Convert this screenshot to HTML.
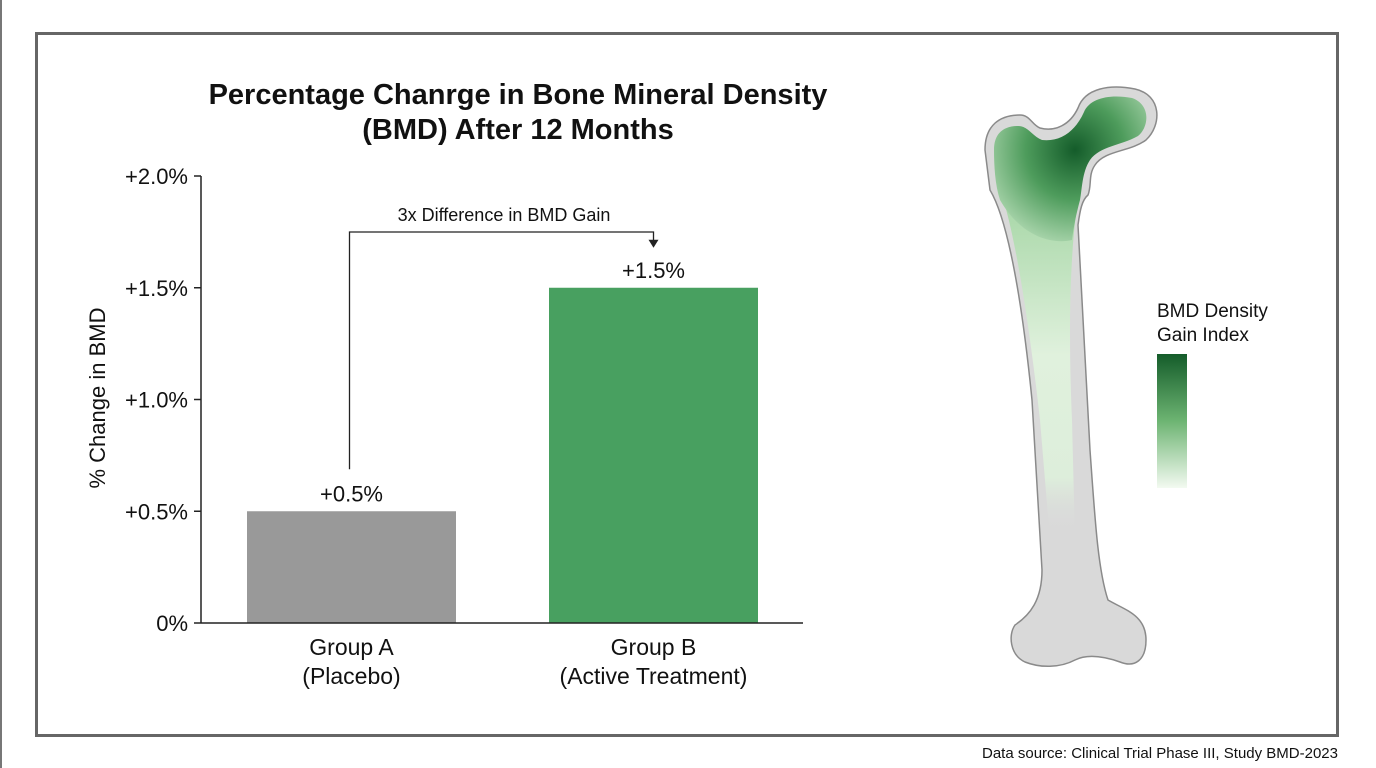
<!DOCTYPE html>
<html><head><meta charset="utf-8"><style>
html,body{margin:0;padding:0;background:#fff;}
body{width:1376px;height:768px;position:relative;overflow:hidden;font-family:"Liberation Sans",sans-serif;}
</style></head><body>
<div style="position:absolute;left:0;top:0;width:2px;height:768px;background:#777"></div>
<svg width="1376" height="768" style="position:absolute;left:0;top:0">
<defs>
<radialGradient id="headG" cx="1075" cy="150" r="110" gradientUnits="userSpaceOnUse">
<stop offset="0" stop-color="#145c2a"/><stop offset="0.45" stop-color="#4e9c5c"/><stop offset="1" stop-color="#c5e6c4"/>
</radialGradient>
<linearGradient id="shaftG" x1="0" y1="180" x2="0" y2="530" gradientUnits="userSpaceOnUse">
<stop offset="0" stop-color="#9fd39f"/><stop offset="0.5" stop-color="#e0f1dd"/><stop offset="0.85" stop-color="#ddeedb"/><stop offset="1" stop-color="#dcdcdc" stop-opacity="0"/>
</linearGradient>
<linearGradient id="legG" x1="0" y1="354" x2="0" y2="488" gradientUnits="userSpaceOnUse">
<stop offset="0" stop-color="#145c2a"/><stop offset="0.5" stop-color="#6db472"/><stop offset="1" stop-color="#f3faf1"/>
</linearGradient>
</defs>
<rect x="36.5" y="33.5" width="1301" height="702" fill="none" stroke="#666" stroke-width="3"/>
<g id="chart"></g>
<path d="M 985,150 C 985,125 1000,115 1020,115 C 1030,115 1032,125 1040,128 C 1055,132 1070,125 1078,108 C 1085,88 1110,84 1135,89 C 1162,95 1162,125 1146,140 C 1130,152 1105,150 1095,165 C 1088,175 1092,185 1088,195 C 1082,200 1080,210 1078,225 L 1090,450 C 1095,520 1098,570 1108,600 C 1125,610 1146,615 1146,640 C 1146,660 1135,668 1120,662 C 1100,655 1085,655 1075,660 C 1060,668 1040,668 1025,662 C 1010,655 1008,635 1015,625 C 1030,615 1042,600 1042,570 L 1032,400 C 1022,300 1008,220 990,190 Z" fill="#d9d9d9" stroke="#8a8a8a" stroke-width="1.5"/>
<path d="M 1000,190 C 1015,230 1030,330 1040,420 L 1050,540 L 1075,540 L 1072,420 C 1068,330 1070,250 1078,200 Z" fill="url(#shaftG)"/>
<path d="M 994,150 C 994,132 1005,126 1018,126 C 1028,126 1032,136 1042,140 C 1060,142 1075,132 1084,112 C 1090,98 1110,94 1132,98 C 1150,104 1150,126 1138,136 C 1120,146 1100,146 1090,160 C 1082,172 1082,190 1080,200 C 1076,215 1074,225 1072,240 C 1050,245 1020,235 1000,200 C 995,185 994,165 994,150 Z" fill="url(#headG)"/>
<text x="1157" y="317" font-size="19" fill="#111">BMD Density</text>
<text x="1157" y="341" font-size="19" fill="#111">Gain Index</text>
<rect x="1157" y="354" width="30" height="134" fill="url(#legG)"/>
<text x="1338" y="758" font-size="15" text-anchor="end" fill="#111">Data source: Clinical Trial Phase III, Study BMD-2023</text>
</svg>
<script>
const categories = ["Group A|(Placebo)", "Group B|(Active Treatment)"];
const values = [0.5, 1.5];
const valueLabels = ["+0.5%", "+1.5%"];
const barColors = ["#999999", "#48a060"];
const ticks = [0, 0.5, 1.0, 1.5, 2.0];
const tickLabels = ["0%", "+0.5%", "+1.0%", "+1.5%", "+2.0%"];

const NS = "http://www.w3.org/2000/svg";
const g = document.getElementById("chart");
const y0 = 623, yTop = 176, vMax = 2.0;
const yS = v => y0 - (y0 - yTop) * v / vMax;
const axL = 201, axR = 803, barW = 209;
const xC = i => [351.5, 653.5][i];
function mk(tag, attrs, txt) {
  const e = document.createElementNS(NS, tag);
  for (const k in attrs) e.setAttribute(k, attrs[k]);
  if (txt !== undefined) e.textContent = txt;
  g.appendChild(e); return e;
}
let t;
t = mk("text", {x: 518, y: 104, "font-size": 29, "font-weight": "bold", "text-anchor": "middle", fill: "#111"}, "Percentage Chanrge in Bone Mineral Density");


t = mk("text", {x: 518, y: 139, "font-size": 29, "font-weight": "bold", "text-anchor": "middle", fill: "#111"}, "(BMD) After 12 Months");


t = mk("text", {x: 105, y: 398, "font-size": 22, "text-anchor": "middle", fill: "#111", transform: "rotate(-90 105 398)"}, "% Change in BMD");


ticks.forEach((v, i) => {
  const y = yS(v);
  const l = mk("line", {x1: axL - 7, x2: axL, y1: y, y2: y, stroke: "#222", "stroke-width": 1.5});
  
  
  const tx = mk("text", {x: 188, y: y + 8, "font-size": 22, "text-anchor": "end", fill: "#111"}, tickLabels[i]);
  
  
});
values.forEach((v, i) => {
  const r = mk("rect", {x: xC(i) - barW / 2, y: yS(v), width: barW, height: y0 - yS(v), fill: barColors[i]});
  
  
  const vl = mk("text", {x: xC(i), y: yS(v) - 10, "font-size": 22, "text-anchor": "middle", fill: "#111"}, valueLabels[i]);
  
  
  const parts = categories[i].split("|");
  parts.forEach((p, j) => {
    const c = mk("text", {x: xC(i), y: 655 + j * 29, "font-size": 23, "text-anchor": "middle", fill: "#111"}, p);
    
    
  });
});
let ax = mk("line", {x1: axL, x2: axL, y1: yTop, y2: y0, stroke: "#222", "stroke-width": 1.5});


ax = mk("line", {x1: axL, x2: axR, y1: y0, y2: y0, stroke: "#222", "stroke-width": 1.5});


// annotation bracket
const ax0 = xC(0) - 2, ax1 = xC(1), yb = 232;
const br = mk("path", {d: `M ${ax0} ${yS(values[0]) - 42} L ${ax0} ${yb} L ${ax1} ${yb} L ${ax1} ${yS(values[1]) - 47}`, fill: "none", stroke: "#222", "stroke-width": 1.3});


const ar = mk("path", {d: `M ${ax1 - 5} ${yS(values[1]) - 48} L ${ax1 + 5} ${yS(values[1]) - 48} L ${ax1} ${yS(values[1]) - 40} Z`, fill: "#222"});


const at = mk("text", {x: 504, y: 221, "font-size": 18, "text-anchor": "middle", fill: "#111"}, "3x Difference in BMD Gain");


</script>
</body></html>
